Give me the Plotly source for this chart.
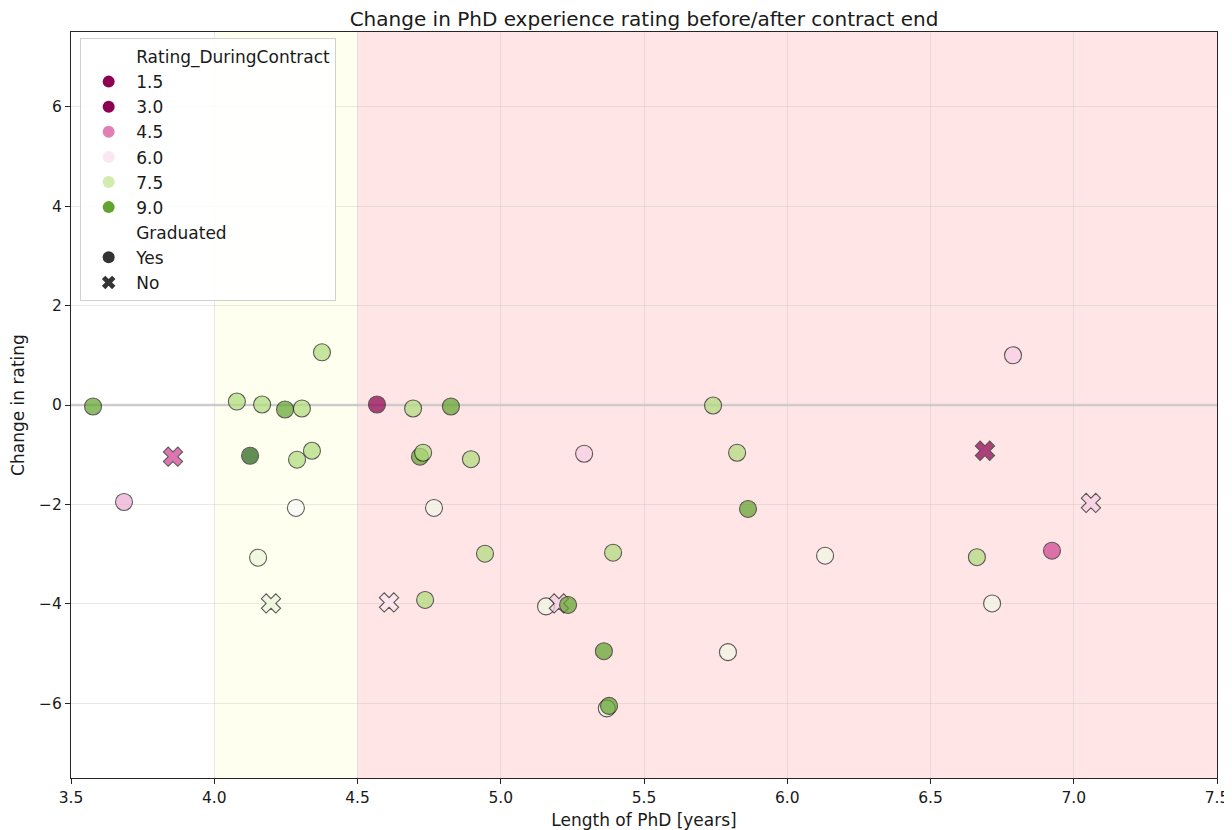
import plotly.graph_objects as go
import plotly.colors as pc

# ---- data ----
length_years = [3.577, 3.685, 3.856, 4.079, 4.125, 4.167, 4.153, 4.247, 4.198, 4.289,
                4.285, 4.306, 4.341, 4.376, 4.568, 4.694, 4.718, 4.729, 4.826, 4.767,
                4.896, 4.945, 4.610, 4.736, 5.291, 5.158, 5.203, 5.235, 5.392, 5.360,
                5.370, 5.378, 5.741, 5.825, 5.863, 5.793, 6.132, 6.788, 6.690, 6.662,
                6.715, 6.924, 7.060]
change_rating = [-0.03, -1.95, -1.04, 0.07, -1.02, 0.01, -3.07, -0.09, -3.99, -1.10,
                 -2.07, -0.07, -0.92, 1.06, 0.01, -0.07, -1.04, -0.96, -0.03, -2.07,
                 -1.09, -2.99, -3.97, -3.92, -0.98, -4.05, -3.99, -4.02, -2.97, -4.95,
                 -6.10, -6.05, -0.01, -0.96, -2.09, -4.97, -3.03, 1.00, -0.92, -3.06,
                 -3.99, -2.93, -1.97]
rating_during = [9, 5, 4, 8, 10, 8, 7, 9, 7, 8,
                 6.5, 8, 8, 8, 3, 8, 9, 8, 9, 6.8,
                 8, 8, 6, 8, 5.5, 6.8, 5.5, 9, 8, 9,
                 7, 9, 8, 8, 9, 6.8, 6.8, 5.5, 3, 8,
                 6.8, 4, 5.5]
graduated = ["Yes", "Yes", "No", "Yes", "Yes", "Yes", "Yes", "Yes", "No", "Yes",
             "Yes", "Yes", "Yes", "Yes", "Yes", "Yes", "Yes", "Yes", "Yes", "Yes",
             "Yes", "Yes", "No", "Yes", "Yes", "Yes", "No", "Yes", "Yes", "Yes",
             "Yes", "Yes", "Yes", "Yes", "Yes", "Yes", "Yes", "Yes", "No", "Yes",
             "Yes", "Yes", "No"]

legend_ratings = [1.5, 3.0, 4.5, 6.0, 7.5, 9.0]
graduated_levels = ["Yes", "No"]

x_ticks = [3.5, 4.0, 4.5, 5.0, 5.5, 6.0, 6.5, 7.0, 7.5]
y_ticks = [-6, -4, -2, 0, 2, 4, 6]

# ---- styling ----
FONT = "DejaVu Sans"
CMIN, CMAX = 3.0, 10.0
piyg = pc.make_colorscale(pc.diverging.PiYG)
symbol_map = {"Yes": "circle", "No": "x"}

# the page body has an 8px margin; size the figure so it fits the window
FIG_W, FIG_H = 1224, 822


def rating_color(v):
    t = min(max((v - CMIN) / (CMAX - CMIN), 0.0), 1.0)
    return pc.sample_colorscale(piyg, [t])[0]


fig = go.Figure()

# main scatter
fig.add_trace(go.Scatter(
    x=length_years, y=change_rating, mode="markers",
    marker=dict(
        color=rating_during, colorscale=piyg, cmin=CMIN, cmax=CMAX,
        symbol=[symbol_map[g] for g in graduated],
        size=17, opacity=0.72,
        line=dict(color="#1e1e1e", width=1.1),
        showscale=False,
    ),
    showlegend=False, hoverinfo="x+y",
))

# legend entries
def header(name):
    fig.add_trace(go.Scatter(x=[None], y=[None], mode="markers", name=name,
                             marker=dict(size=1, color="rgba(0,0,0,0)"),
                             showlegend=True))

header("Rating_DuringContract")
for r in legend_ratings:
    fig.add_trace(go.Scatter(x=[None], y=[None], mode="markers", name=f"{r:.1f}",
                             marker=dict(size=12, color=rating_color(r), symbol="circle"),
                             showlegend=True))
header("Graduated")
for g in graduated_levels:
    fig.add_trace(go.Scatter(x=[None], y=[None], mode="markers", name=g,
                             marker=dict(size=12, color="#333333", symbol=symbol_map[g]),
                             showlegend=True))

# shaded regions and reference line
fig.add_shape(type="rect", xref="x", yref="paper", x0=4.0, x1=4.5, y0=0, y1=1,
              fillcolor="#fffff0", line_width=0, layer="below")
fig.add_shape(type="rect", xref="x", yref="paper", x0=4.5, x1=7.5, y0=0, y1=1,
              fillcolor="#ffe5e5", line_width=0, layer="below")
fig.add_shape(type="line", xref="paper", yref="y", x0=0, x1=1, y0=0, y1=0,
              line=dict(color="#cfcfcf", width=2.5), layer="below")

axis_common = dict(
    showline=True, linecolor="#262626", linewidth=1.2, mirror=True,
    ticks="outside", ticklen=5, tickwidth=1.1, tickcolor="#262626",
    showgrid=True, gridcolor="rgba(190,190,190,0.35)", gridwidth=1,
    zeroline=False, automargin=False,
    tickfont=dict(family=FONT, size=15.5, color="#1a1a1a"),
)

fig.update_xaxes(range=[3.5, 7.5], tickvals=x_ticks,
                 ticktext=[f"{v:.1f}" for v in x_ticks],
                 title=dict(text="Length of PhD [years]",
                            font=dict(family=FONT, size=17, color="#1a1a1a"), standoff=8),
                 **axis_common)
fig.update_yaxes(range=[-7.5, 7.5], tickvals=y_ticks,
                 title=dict(text="Change in rating",
                            font=dict(family=FONT, size=17, color="#1a1a1a"), standoff=10),
                 **axis_common)

fig.update_layout(
    width=FIG_W, height=FIG_H,
    margin=dict(l=63, r=15, t=24, b=52),
    paper_bgcolor="white", plot_bgcolor="white",
    font=dict(family=FONT, size=15, color="#1a1a1a"),
    title=dict(text="Change in PhD experience rating before/after contract end",
               x=0.5, xref="paper", xanchor="center",
               y=1 - 11 / FIG_H, yref="container", yanchor="middle",
               font=dict(family=FONT, size=20, color="#1a1a1a")),
    legend=dict(x=0.008, y=0.992, xanchor="left", yanchor="top",
                bgcolor="rgba(255,255,255,0.85)", bordercolor="#d0d0d0", borderwidth=1,
                font=dict(family=FONT, size=17, color="#1a1a1a"),
                itemwidth=45, tracegroupgap=0),
)

fig.write_html("out.html")
